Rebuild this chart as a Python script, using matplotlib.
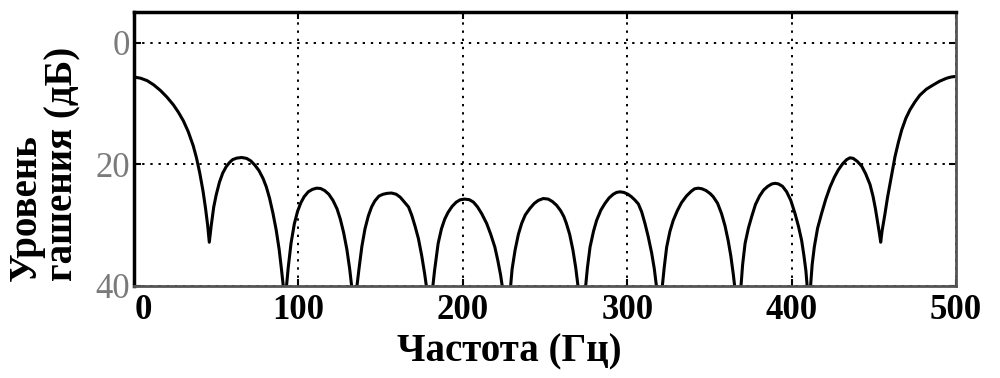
import matplotlib
matplotlib.use("Agg")
import matplotlib.pyplot as plt
from matplotlib.transforms import ScaledTranslation

# Frequency (Hz) and suppression level (dB)
freq = [0, 4, 8, 12, 16, 20, 24, 27, 30, 33, 36, 38, 40, 42, 43.5, 44.8, 45.8,
        47, 48.5, 50, 52, 54, 56, 58, 60, 62.5, 65.5, 68.5, 71, 73.5, 76, 78.5,
        80.5, 82.5, 84.5, 86.5, 88.3, 89.8, 91.0, 91.8,
        92.6, 93.8, 95.5, 97.5, 99.5, 101.5, 103.5, 106, 108.5, 111, 113.5, 116,
        118.5, 121, 123.5, 125.5, 127.5, 129.5, 131.2, 132.8, 134,
        135.2, 136.8, 138.6, 140.5, 142.5, 144.5, 146.5, 149, 151.5, 154, 156.7,
        159.5, 162, 164.5, 167, 169, 171, 173, 175, 176.8, 178.6, 180,
        181.2, 182.8, 185, 187, 189, 191, 193.5, 196, 198.5, 201.3, 204, 206.5,
        209, 211.5, 214.5, 217, 219.5, 221.3, 223, 224.8, 226.8,
        228.6, 230, 231.8, 233.8, 235.8, 238, 240.9, 243.5, 246, 249, 252, 254.5,
        257, 259.5, 261.5, 263, 265, 267, 268.7, 270.3, 272.4,
        274.2, 275.8, 277.4, 279.5, 281.4, 284, 286.5, 289, 291.5, 293.5, 295.6,
        298, 300.5, 302.5, 304.5, 306.8, 308.8, 310.8, 312.8, 314.9, 316.5, 318,
        319.5,
        321, 322.5, 324, 326, 328, 330.5, 333, 336, 339, 341, 343.2, 345.5, 348,
        350.5, 352.3, 355, 357.4, 359.5, 361.4, 363, 364.5, 366, 367.4,
        368.8, 370.2, 371.7, 373.7, 375.7, 378, 380.5, 383, 385.5, 388, 390, 392,
        394.5, 397, 399.5, 402.1, 404.2, 406.1, 407.5, 408.7, 409.6, 410.5,
        411.4, 412.5, 413.8, 415.8, 418.3, 420.8, 423.4, 426, 428.4, 431, 433.5,
        435.5, 437.5, 440, 442.7, 445, 447.7, 449.5, 451, 452.5, 453.5, 454.2,
        455, 456.8, 458.3, 459.9, 461.4, 462.9, 465, 467, 469.5, 472, 475, 478,
        482, 486.2, 490, 494.3, 497, 500]
level = [5.6, 5.8, 6.2, 6.9, 7.8, 8.9, 10.2, 11.4, 12.8, 14.6, 16.9, 18.9, 21.4,
         24.4, 27.2, 30.0, 32.8,
         30.0, 27.0, 25.0, 22.9, 21.4, 20.4, 19.7, 19.2, 18.95, 18.85, 19.0,
         19.4, 20.1, 21.0, 22.3, 23.7, 25.6, 28.0, 30.8, 34.0, 37.5, 40.5, 50,
         40.5, 37.0, 33.0, 29.8, 27.7, 26.3, 25.3, 24.5, 24.1, 23.9, 23.95, 24.3,
         24.9, 25.9, 27.3, 29.0, 31.2, 34.0, 37.2, 41, 50,
         41, 37.3, 33.5, 30.6, 28.5, 27.0, 26.0, 25.2, 24.9, 24.75, 24.7, 24.9,
         25.4, 26.2, 27.0, 28.4, 30.2, 32.2, 35.0, 38.0, 41.5, 50,
         41.5, 37.5, 33.0, 30.6, 29.0, 27.9, 26.9, 26.2, 25.8, 25.7, 25.8, 26.2,
         27.0, 28.1, 29.7, 31.5, 33.6, 35.8, 38.2, 41.5, 50,
         41.5, 37.2, 34.1, 31.5, 29.7, 28.3, 27.2, 26.4, 25.9, 25.6, 25.7, 26.1,
         26.7, 27.6, 28.6, 29.7, 31.5, 34.1, 37.0, 40.5, 50,
         41.5, 37.0, 33.6, 31.0, 29.2, 27.5, 26.4, 25.5, 24.9, 24.6, 24.5, 24.6,
         24.9, 25.3, 25.8, 26.5, 27.8, 29.7, 31.9, 34.6, 37.2, 40.5, 50,
         41, 37.0, 33.6, 31.0, 29.2, 27.6, 26.3, 25.2, 24.4, 24.0, 23.9, 24.0,
         24.3, 24.8, 25.3, 26.4, 28.1, 30.1, 32.5, 35.0, 38.0, 41.5, 50,
         41.5, 36.5, 33.0, 30.5, 28.6, 26.6, 25.2, 24.2, 23.6, 23.2, 23.1, 23.2,
         23.6, 24.5, 25.9, 28.1, 30.2, 32.5, 35.0, 37.5, 40.5, 50,
         40.5, 36.5, 33.6, 30.5, 28.0, 25.7, 23.7, 22.1, 20.9, 19.9, 19.2, 18.9,
         19.0, 19.5, 20.3, 21.5, 23.3, 25.2, 27.3, 29.8, 31.5, 32.8,
         31.0, 28.1, 25.5, 23.1, 20.8, 18.7, 16.3, 14.3, 12.4, 11.0, 9.7, 8.6,
         7.6, 6.9, 6.3, 5.8, 5.6, 5.5]

x_ticks = [0, 100, 200, 300, 400, 500]
y_ticks = [0, 20, 40]
x_label = "Частота (Гц)"
y_label = "Уровень\nгашения (дБ)"

serif = ["Liberation Serif", "DejaVu Serif"]

fig = plt.figure(figsize=(10, 3.78), dpi=100)
ax = fig.add_axes([0.134, 0.2434, 0.822, 0.7249])

ax.plot(freq, level, color="black", lw=2.2, solid_joinstyle="round")

ax.set_xlim(0, 500)
ax.set_ylim(40, -5.1)
ax.set_xticks(x_ticks)
ax.set_yticks(y_ticks)
ax.set_xticklabels([str(t) for t in x_ticks], family=serif, fontweight="bold",
                   fontsize=25, color="black")
ax.set_yticklabels([str(t) for t in y_ticks], family=serif, fontsize=25,
                   color="#7a7a7a")
ax.tick_params(axis="both", which="both", direction="in", length=5, width=1.5,
               top=True, right=True, color="black")
ax.tick_params(axis="x", pad=6)
ax.tick_params(axis="y", pad=3)

# first x tick label sits slightly to the right, as in the reference
lab0 = ax.get_xticklabels()[0]
lab0.set_transform(lab0.get_transform() + ScaledTranslation(9 / 100, 0, fig.dpi_scale_trans))

ax.grid(True, color="black", linestyle=(0, (1.2, 3)), lw=1.4)

for side in ["top", "left"]:
    ax.spines[side].set_linewidth(2.5)
    ax.spines[side].set_color("black")
for side in ["bottom", "right"]:
    ax.spines[side].set_linewidth(2.0)
    ax.spines[side].set_color("#555555")

ax.set_xlabel(x_label, family=serif, fontweight="bold", fontsize=28)
ax.xaxis.set_label_coords(0.457, -0.172)
ax.set_ylabel(y_label, family=serif, fontweight="bold", fontsize=28,
              linespacing=0.97, multialignment="left")
ax.yaxis.set_label_coords(-0.064, 0.445)

fig.savefig("out.png", dpi=100)
